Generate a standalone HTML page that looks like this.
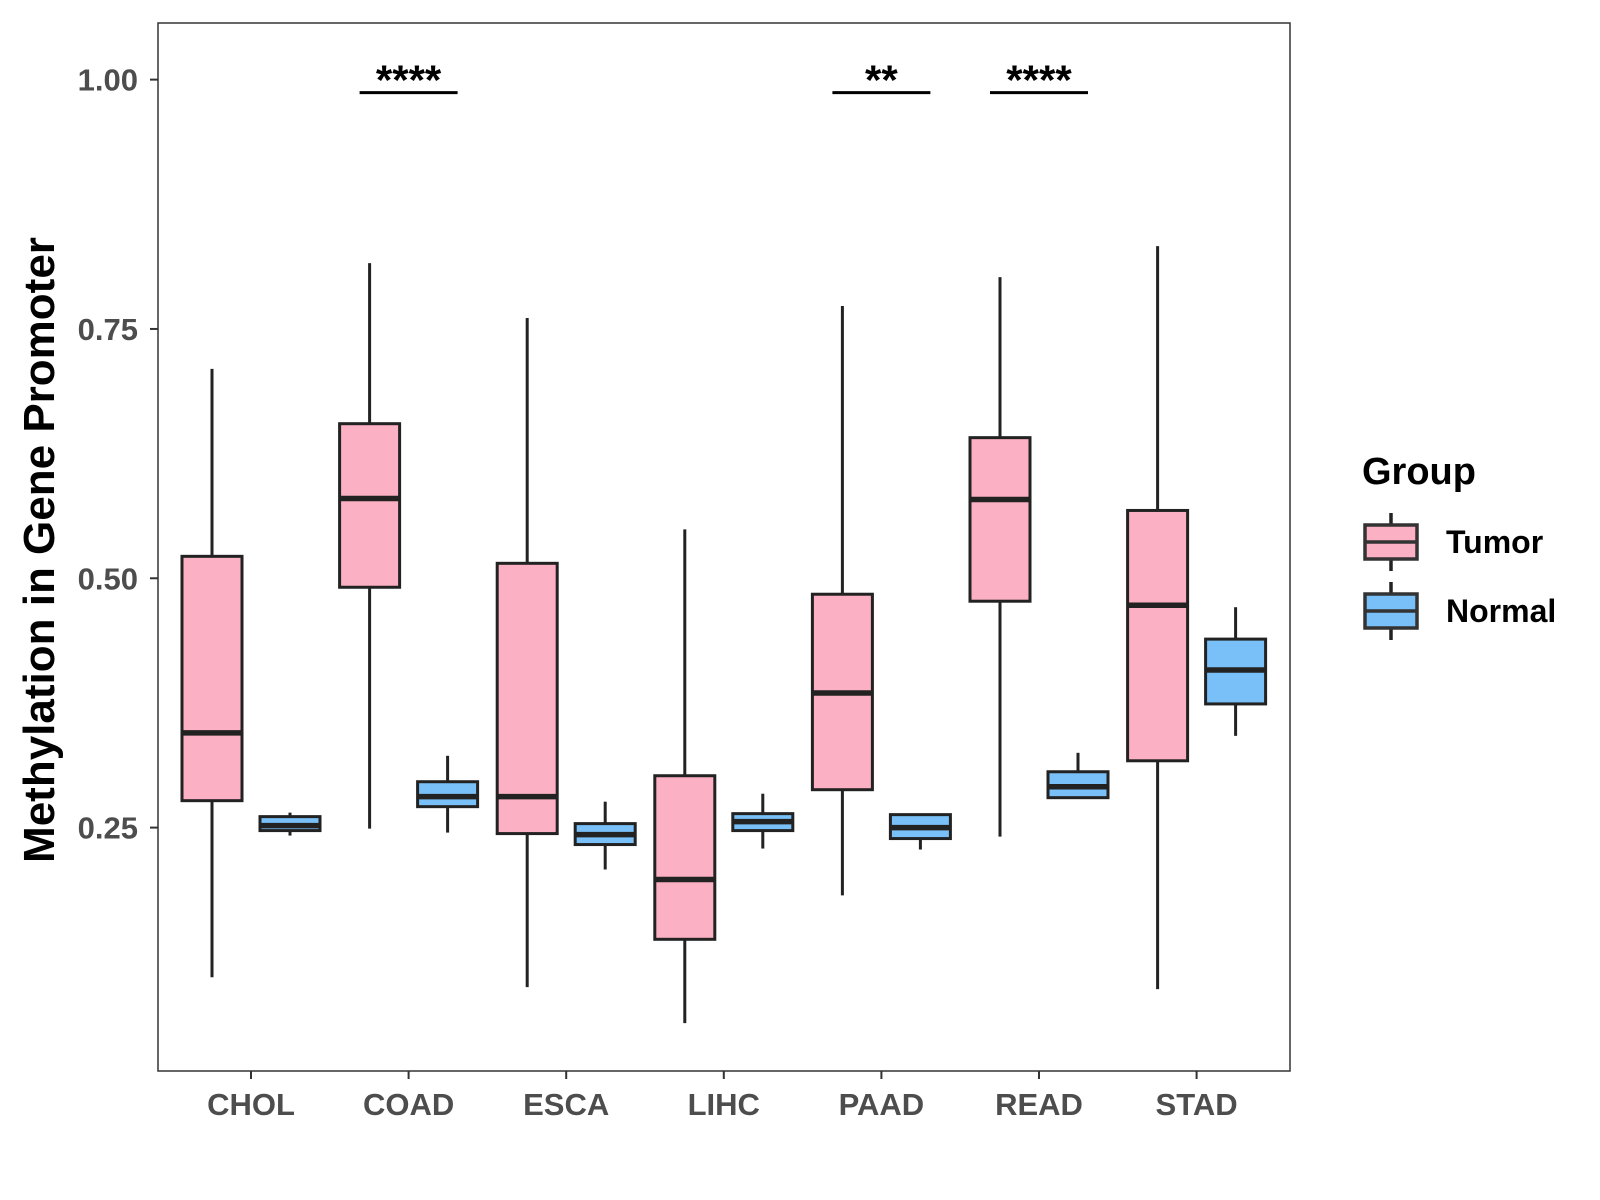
<!DOCTYPE html>
<html><head><meta charset="utf-8"><style>
html,body{margin:0;padding:0;background:#fff;}
svg{display:block;font-family:"Liberation Sans",Arial,sans-serif;}
</style></head><body>
<svg id="chart" width="1600" height="1200" viewBox="0 0 1600 1200"></svg>
<script>
const categories = ["CHOL","COAD","ESCA","LIHC","PAAD","READ","STAD"];
// [lower whisker, q1, median, q3, upper whisker]
const tumorStats = [
  [0.100,0.277,0.345,0.522,0.710],
  [0.249,0.491,0.580,0.655,0.816],
  [0.090,0.244,0.281,0.515,0.761],
  [0.054,0.138,0.198,0.302,0.549],
  [0.182,0.288,0.385,0.484,0.773],
  [0.241,0.477,0.579,0.641,0.802],
  [0.088,0.317,0.473,0.568,0.833]
];
const normalStats = [
  [0.242,0.247,0.252,0.261,0.265],
  [0.245,0.271,0.281,0.296,0.322],
  [0.208,0.233,0.243,0.254,0.276],
  [0.229,0.247,0.256,0.264,0.284],
  [0.228,0.239,0.250,0.263,0.263],
  [0.280,0.280,0.291,0.306,0.325],
  [0.342,0.374,0.408,0.439,0.471]
];
const yTicks = [0.25,0.50,0.75,1.00];
const yTickLabels = ["0.25","0.50","0.75","1.00"];
const sigCategories = ["COAD","PAAD","READ"];
const sigLabels = ["****","**","****"];
const sigLevel = 0.987;

const NS="http://www.w3.org/2000/svg";
const svg=document.getElementById('chart');
function mk(tag,attrs,parent){const e=document.createElementNS(NS,tag);for(const k in attrs)e.setAttribute(k,attrs[k]);(parent||svg).appendChild(e);return e;}
const P={l:158,r:1290,t:23,b:1071};
function yS(v){return 827.6-(v-0.25)*997.3;}
function xS(i){return 251+i*157.6;}
const off=39, bw=60;

const panel=mk('rect',{x:P.l,y:P.t,width:P.r-P.l,height:P.b-P.t,fill:'#fff',stroke:'#333','stroke-width':1.5});



yTicks.forEach((v,i)=>{
  const t=mk('line',{x1:P.l-8,x2:P.l,y1:yS(v),y2:yS(v),stroke:'#333','stroke-width':2});
  
  
  const l=mk('text',{x:P.l-20,y:yS(v)+11,'text-anchor':'end','font-size':31,'font-weight':'bold',fill:'#4d4d4d'});
  l.textContent=yTickLabels[i];
  
  
});
categories.forEach((c,i)=>{
  const t=mk('line',{x1:xS(i),x2:xS(i),y1:P.b,y2:P.b+8,stroke:'#333','stroke-width':2});
  
  
  const l=mk('text',{x:xS(i),y:P.b+44,'text-anchor':'middle','font-size':31,'font-weight':'bold',fill:'#4d4d4d'});
  l.textContent=c;
  
  
});

function box(cx,s,fill,name){
  const g=mk('g',{});
  
  
  mk('line',{x1:cx,x2:cx,y1:yS(s[4]),y2:yS(s[3]),stroke:'#222','stroke-width':3},g);
  mk('line',{x1:cx,x2:cx,y1:yS(s[1]),y2:yS(s[0]),stroke:'#222','stroke-width':3},g);
  mk('rect',{x:cx-bw/2,y:yS(s[3]),width:bw,height:Math.max(1,yS(s[1])-yS(s[3])),fill:fill,stroke:'#222','stroke-width':3},g);
  mk('line',{x1:cx-bw/2,x2:cx+bw/2,y1:yS(s[2]),y2:yS(s[2]),stroke:'#222','stroke-width':5.5},g);
}
categories.forEach((c,i)=>{
  box(xS(i)-off,tumorStats[i],'#FCB0C3','tumor-box-'+c.toLowerCase());
  box(xS(i)+off,normalStats[i],'#78C0F7','normal-box-'+c.toLowerCase());
});

sigCategories.forEach((c,k)=>{
  const i=categories.indexOf(c);
  const ln=mk('line',{x1:xS(i)-off-10,x2:xS(i)+off+10,y1:yS(sigLevel),y2:yS(sigLevel),stroke:'#000','stroke-width':3});
  
  
  const t=mk('text',{x:xS(i),y:yS(sigLevel)+2,'text-anchor':'middle','font-size':42,'font-weight':'bold',fill:'#000'});
  t.textContent=sigLabels[k];
  
  
});

const yt=mk('text',{x:0,y:0,transform:'translate(54,550) rotate(-90)','text-anchor':'middle','font-size':44,'font-weight':'bold',fill:'#000'});
yt.textContent='Methylation in Gene Promoter';



const lt=mk('text',{x:1362,y:484,'font-size':38,'font-weight':'bold',fill:'#000'});
lt.textContent='Group';


function legendEntry(cy,fill,label,name){
  const g=mk('g',{});
  
  
  const cx=1391;
  mk('line',{x1:cx,x2:cx,y1:cy-29,y2:cy+29,stroke:'#222','stroke-width':3.5},g);
  mk('rect',{x:cx-26,y:cy-17,width:52,height:34,fill:fill,stroke:'#333','stroke-width':3.5},g);
  mk('line',{x1:cx-26,x2:cx+26,y1:cy,y2:cy,stroke:'#333','stroke-width':3.5},g);
  const t=mk('text',{x:1446,y:cy+11,'font-size':32,'font-weight':'bold',fill:'#000'},g);
  t.textContent=label;
}
legendEntry(542,'#FCB0C3','Tumor','legend-entry-tumor');
legendEntry(611,'#78C0F7','Normal','legend-entry-normal');
</script>
</body></html>
